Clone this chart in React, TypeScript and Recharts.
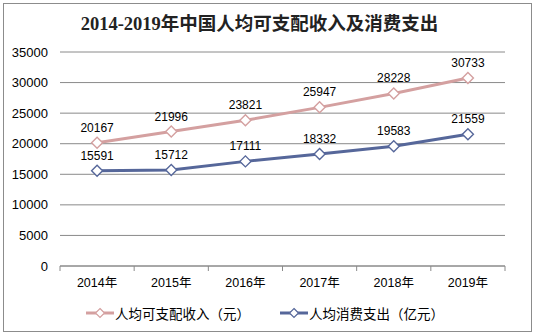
import { LineChart, Line, XAxis, YAxis, CartesianGrid, Legend, LabelList } from 'recharts';

const years = ['2014年', '2015年', '2016年', '2017年', '2018年', '2019年'];
const income = [20167, 21996, 23821, 25947, 28228, 30733];
const spending = [15591, 15712, 17111, 18332, 19583, 21559];
const yTicks = [0, 5000, 10000, 15000, 20000, 25000, 30000, 35000];

const incomeName = '人均可支配收入（元）';
const spendingName = '人均消费支出（亿元）';
const PINK = '#d4a0a0';
const BLUE = '#56679a';
const GRID = '#8a8a8a';
const FONT = '"Liberation Sans", Arial, "Noto Sans CJK SC", sans-serif';

const data = years.map((year, i) => ({ year, income: income[i], spending: spending[i] }));

function Diamond(props: any) {
  const { cx, cy, stroke } = props;
  if (cx == null || cy == null) return null;
  const r = 5.5;
  return (
    <polygon
      points={`${cx},${cy - r} ${cx + r},${cy} ${cx},${cy + r} ${cx - r},${cy}`}
      fill="#fff"
      stroke={stroke}
      strokeWidth={1.4}
    />
  );
}

// category labels, plus the tick marks sitting between categories
function YearTick(props: any) {
  const { x, y, payload, index } = props;
  const half = payload.offset ?? 0;
  return (
    <g>
      <line x1={x - half} x2={x - half} y1={y} y2={y + 5} stroke={GRID} />
      {index === years.length - 1 && (
        <line x1={x + half} x2={x + half} y1={y} y2={y + 5} stroke={GRID} />
      )}
      <text x={x} y={y + 18} textAnchor="middle" dominantBaseline="middle" fontSize={12.5} fill="#000" fontFamily={FONT}>
        {payload.value}
      </text>
    </g>
  );
}

function LegendItems(props: any) {
  const { payload } = props;
  return (
    <div style={{ display: 'flex', justifyContent: 'center', height: 20, alignItems: 'center', gap: 30, paddingRight: 4 }}>
      {(payload || []).map((p: any) => (
        <div key={p.value} style={{ display: 'flex', alignItems: 'center' }}>
          <svg width={28} height={12} style={{ marginRight: 1 }}>
            <line x1={0} x2={28} y1={6} y2={6} stroke={p.color} strokeWidth={3} />
            <polygon points="14,1.5 18.5,6 14,10.5 9.5,6" fill="#fff" stroke={p.color} strokeWidth={1.2} />
          </svg>
          <span style={{ fontSize: 13.5, color: '#000', fontFamily: FONT }}>{p.value}</span>
        </div>
      ))}
    </div>
  );
}

export default function App() {
  return (
    <div style={{ position: 'absolute', left: 0, top: 0, width: 534, height: 335, background: '#fff' }}>
      <div
        style={{
          position: 'absolute',
          left: 3,
          top: 3,
          width: 527,
          height: 327,
          border: '1px solid #8c8c8c',
        }}
      />
      <div
        style={{
          position: 'absolute',
          left: 0,
          top: 13,
          width: 519,
          textAlign: 'center',
          fontSize: 18.5,
          fontWeight: 'bold',
          fontFamily: '"Liberation Serif", "Noto Sans CJK SC", serif',
          color: '#222',
          lineHeight: '22px',
        }}
      >
        2014-2019年中国人均可支配收入及消费支出
      </div>
      <div style={{ position: 'absolute', left: 0, top: 0 }}>
        <LineChart width={534} height={335} data={data} margin={{ top: 52, right: 29, bottom: 19, left: 0 }}>
          <CartesianGrid vertical={false} stroke={GRID} />
          <XAxis
            dataKey="year"
            scale="band"
            height={30}
            axisLine={{ stroke: GRID }}
            tickLine={false}
            tickSize={0}
            tickMargin={0}
            interval={0}
            tick={<YearTick />}
          />
          <YAxis
            domain={[0, 35000]}
            ticks={yTicks}
            width={60}
            axisLine={false}
            tickLine={false}
            tickMargin={6}
            tick={{ fontSize: 13, fill: '#000', fontFamily: FONT }}
          />
          <Legend
            verticalAlign="bottom"
            content={<LegendItems />}
            wrapperStyle={{ bottom: 12, left: 0, width: 534 }}
          />
          <Line
            name={incomeName}
            dataKey="income"
            stroke={PINK}
            strokeWidth={3}
            dot={<Diamond />}
            activeDot={false}
            isAnimationActive={false}
          >
            <LabelList dataKey="income" position="top" offset={11} fontSize={12} fill="#000" fontFamily={FONT} />
          </Line>
          <Line
            name={spendingName}
            dataKey="spending"
            stroke={BLUE}
            strokeWidth={3}
            dot={<Diamond />}
            activeDot={false}
            isAnimationActive={false}
          >
            <LabelList dataKey="spending" position="top" offset={11} fontSize={12} fill="#000" fontFamily={FONT} />
          </Line>
        </LineChart>
      </div>
    </div>
  );
}
